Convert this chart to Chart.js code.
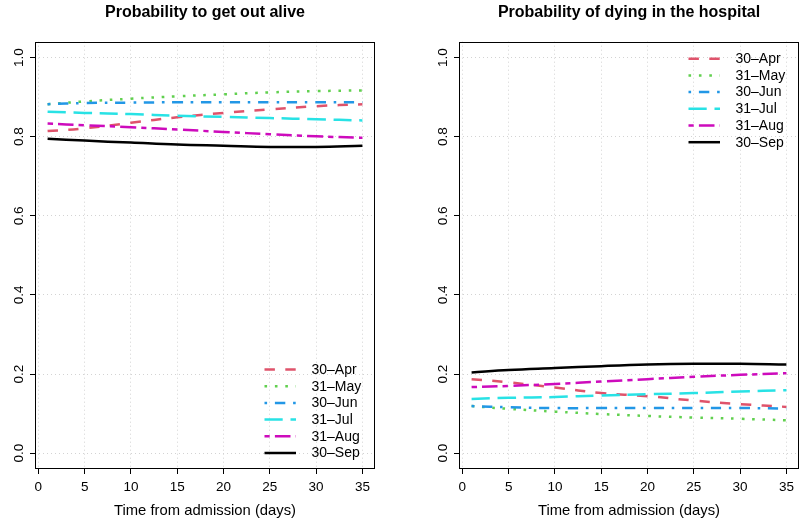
<!DOCTYPE html>
<html>
<head>
<meta charset="utf-8">
<script src="https://cdn.jsdelivr.net/npm/chart.js@4.4.1/dist/chart.umd.min.js"></script>
<style>
  html, body { margin: 0; padding: 0; background: #fff; }
  #wrap { position: relative; width: 799px; height: 523px; overflow: hidden; }
  canvas { position: absolute; top: 0; }
  #alive { left: 0; }
  #death { left: 400px; }
</style>
</head>
<body>
<div id="wrap">
  <canvas id="alive" width="400" height="523"></canvas>
  <canvas id="death" width="399" height="523"></canvas>
</div>
<script>
// days since admission at which the curves are sampled
const days = [1, 5, 10, 15, 20, 25, 30, 35];
const seriesNames = ['30–Apr', '31–May', '30–Jun', '31–Jul', '31–Aug', '30–Sep'];

// probability of being discharged alive
const aliveApr = [0.814, 0.821, 0.835, 0.849, 0.860, 0.869, 0.877, 0.882];
const aliveMay = [0.882, 0.889, 0.896, 0.902, 0.907, 0.912, 0.915, 0.917];
const aliveJun = [0.882, 0.885, 0.886, 0.887, 0.887, 0.887, 0.887, 0.887];
const aliveJul = [0.863, 0.860, 0.857, 0.853, 0.850, 0.847, 0.844, 0.841];
const aliveAug = [0.833, 0.829, 0.824, 0.818, 0.812, 0.806, 0.801, 0.797];
const aliveSep = [0.795, 0.790, 0.785, 0.780, 0.777, 0.774, 0.774, 0.777];

// probability of in-hospital death
const deathApr = [0.187, 0.179, 0.166, 0.152, 0.144, 0.133, 0.124, 0.117];
const deathMay = [0.119, 0.112, 0.105, 0.099, 0.094, 0.090, 0.087, 0.083];
const deathJun = [0.119, 0.116, 0.114, 0.114, 0.114, 0.114, 0.114, 0.113];
const deathJul = [0.137, 0.140, 0.142, 0.146, 0.149, 0.152, 0.156, 0.159];
const deathAug = [0.167, 0.170, 0.175, 0.181, 0.187, 0.193, 0.198, 0.202];
const deathSep = [0.204, 0.210, 0.215, 0.220, 0.224, 0.226, 0.226, 0.224];

const xTicks = [0, 5, 10, 15, 20, 25, 30, 35];
const yTicks = [0, 0.2, 0.4, 0.6, 0.8, 1.0];

const lineColors = ['#DF536B', '#61D04F', '#2297E6', '#28E2E5', '#CD0BBC', '#000000'];
const lineDashes = [
  [10.4, 10.4],
  [2.6, 7.8],
  [2.6, 7.8, 10.4, 7.8],
  [18.2, 7.8],
  [5.2, 5.2, 15.6, 5.2],
  []
];

const FONT = '"Liberation Sans", Arial, sans-serif';

// closed box around the plotting region
const panelFrame = {
  id: 'panelFrame',
  afterDatasetsDraw(chart) {
    const { ctx, chartArea: a } = chart;
    ctx.save();
    ctx.strokeStyle = '#000';
    ctx.lineWidth = 1;
    ctx.strokeRect(Math.round(a.left) + 0.5, Math.round(a.top) + 0.5,
      Math.round(a.right - a.left) - 1, Math.round(a.bottom - a.top) - 1);
    ctx.restore();
  }
};

// borderless legend inside the plot, bottom-right or top-right corner
const insetLegend = {
  id: 'insetLegend',
  afterDraw(chart, args, opts) {
    const { ctx, chartArea: a } = chart;
    const sets = chart.data.datasets;
    const step = 16.7;
    const y0 = opts.corner === 'topright'
      ? a.top + 17
      : a.bottom - 16 - step * (sets.length - 1);
    ctx.save();
    ctx.font = '14px ' + FONT;
    ctx.textBaseline = 'middle';
    ctx.textAlign = 'left';
    sets.forEach((ds, i) => {
      const y = y0 + i * step;
      ctx.beginPath();
      ctx.setLineDash(ds.borderDash);
      ctx.strokeStyle = ds.borderColor;
      ctx.lineWidth = ds.borderWidth;
      ctx.moveTo(a.right - 110.5, y);
      ctx.lineTo(a.right - 79, y);
      ctx.stroke();
      ctx.setLineDash([]);
      ctx.fillStyle = '#000';
      ctx.fillText(ds.label, a.right - 63.5, y + 0.5);
    });
    ctx.restore();
  }
};

function makePanel(id, title, series, corner, yAxisWidth, padRight) {
  return new Chart(document.getElementById(id), {
    type: 'line',
    data: {
      datasets: series.map((vals, i) => ({
        label: seriesNames[i],
        data: days.map((d, j) => ({ x: d, y: vals[j] })),
        borderColor: lineColors[i],
        borderDash: lineDashes[i],
        borderWidth: 2.5,
        pointRadius: 0,
        fill: false,
        tension: 0.4,
        order: series.length - i
      }))
    },
    options: {
      responsive: false,
      animation: false,
      devicePixelRatio: 1,
      layout: { padding: { left: 0, right: padRight, top: 0, bottom: 0 } },
      plugins: {
        legend: { display: false },
        tooltip: { enabled: false },
        title: {
          display: true,
          text: title,
          fullSize: false,
          color: '#000',
          font: { family: FONT, size: 16, weight: 'bold', lineHeight: 1.2 },
          padding: { top: 3, bottom: 19.5 }
        },
        insetLegend: { corner: corner }
      },
      scales: {
        x: {
          type: 'linear',
          min: -0.36,
          max: 36.36,
          afterBuildTicks: s => { s.ticks = xTicks.map(v => ({ value: v })); },
          afterFit: s => { s.height = 54; },
          ticks: {
            color: '#000',
            font: { family: FONT, size: 13.5 },
            padding: 5,
            maxRotation: 0,
            autoSkip: false
          },
          grid: { color: '#d3d3d3', lineWidth: 1, tickColor: '#000', tickLength: 5, tickWidth: 1 },
          border: { display: false, dash: [1, 3] },
          title: {
            display: true,
            text: 'Time from admission (days)',
            color: '#000',
            font: { family: FONT, size: 14.8 },
            padding: { top: 0, bottom: 3.5 }
          }
        },
        y: {
          type: 'linear',
          min: -0.04,
          max: 1.04,
          afterBuildTicks: s => { s.ticks = yTicks.map(v => ({ value: v })); },
          afterFit: s => { s.width = yAxisWidth; },
          ticks: {
            color: '#000',
            font: { family: FONT, size: 13.5 },
            callback: v => v.toFixed(1),
            minRotation: 90,
            maxRotation: 90,
            crossAlign: 'center',
            padding: 1.6,
            autoSkip: false
          },
          grid: { color: '#d3d3d3', lineWidth: 1, tickColor: '#000', tickLength: 5, tickWidth: 1 },
          border: { display: false, dash: [1, 3] }
        }
      }
    },
    plugins: [panelFrame, insetLegend]
  });
}

makePanel('alive', 'Probability to get out alive',
  [aliveApr, aliveMay, aliveJun, aliveJul, aliveAug, aliveSep], 'bottomright', 35, 25);
makePanel('death', 'Probability of dying in the hospital',
  [deathApr, deathMay, deathJun, deathJul, deathAug, deathSep], 'topright', 59, 0);
</script>
</body>
</html>
